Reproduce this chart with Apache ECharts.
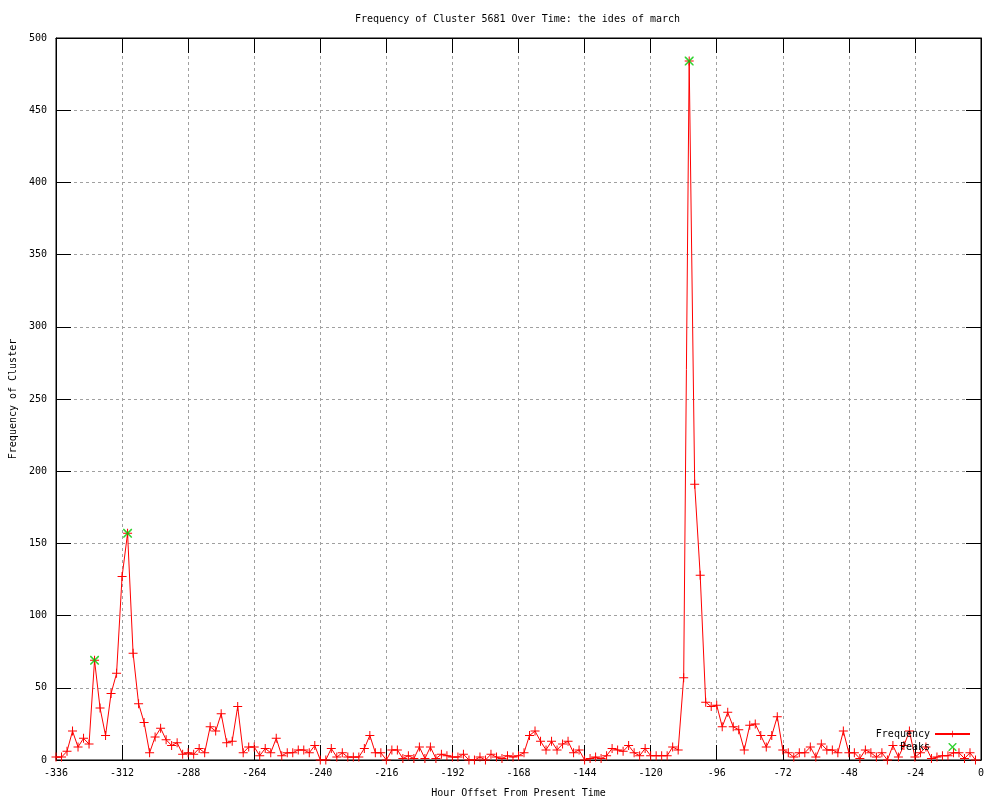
<!DOCTYPE html>
<html><head><meta charset="utf-8">
<script src="https://cdn.jsdelivr.net/npm/echarts@6/dist/echarts.min.js"></script>
<style>html,body{margin:0;padding:0;background:#fff}#c{width:1000px;height:800px}</style>
</head><body><div id="c"></div>
<script>
const hours = [
-336,-334,-332,-330,-328,-326,-324,-322,-320,-318,-316,-314,-312,-310,-308,-306,-304,-302,-300,-298,
-296,-294,-292,-290,-288,-286,-284,-282,-280,-278,-276,-274,-272,-270,-268,-266,-264,-262,-260,-258,
-256,-254,-252,-250,-248,-246,-244,-242,-240,-238,-236,-234,-232,-230,-228,-226,-224,-222,-220,-218,
-216,-214,-212,-210,-208,-206,-204,-202,-200,-198,-196,-194,-192,-190,-188,-186,-184,-182,-180,-178,
-176,-174,-172,-170,-168,-166,-164,-162,-160,-158,-156,-154,-152,-150,-148,-146,-144,-142,-140,-138,
-136,-134,-132,-130,-128,-126,-124,-122,-120,-118,-116,-114,-112,-110,-108,-106,-104,-102,-100,-98,
-96,-94,-92,-90,-88,-86,-84,-82,-80,-78,-76,-74,-72,-70,-68,-66,-64,-62,-60,-58,
-56,-54,-52,-50,-48,-46,-44,-42,-40,-38,-36,-34,-32,-30,-28,-26,-24,-22,-20,-18,
-16,-14,-12,-10,-8,-6,-4,-2
];
const frequency = [
2,2,6,20,9,15,11,69,36,17,46,60,127,157,74,39,26,5,16,22,
14,10,12,4,5,4,8,5,23,20,32,12,13,37,5,9,9,3,8,5,
15,3,5,5,7,7,5,10,0,0,8,2,5,2,2,2,8,17,5,5,
0,7,7,1,3,1,9,1,9,1,4,3,2,2,4,0,0,2,0,4,
2,1,3,2,3,5,17,20,13,7,13,7,11,13,5,7,0,1,2,1,
3,8,7,6,10,5,3,8,3,3,3,3,9,7,57,484,191,128,40,37,
38,23,33,23,21,7,24,25,17,9,17,30,7,5,2,5,5,9,2,11,
7,7,5,20,5,5,1,7,5,2,5,0,10,2,10,20,2,5,9,1,
2,3,3,5,5,1,5,0
];
const peakHours = [-322, -310, -106];
const peakValues = [69, 157, 484];
const xTicks = {min: -336, max: 0, interval: 24};
const yTicks = {min: 0, max: 500, interval: 50};

const FONT = 'DejaVu Sans Mono';
const crossPath = 'path://M4,0H5V9H4Z M0,4H9V5H0Z';
const xPath = 'path://M0,0L1,0L8,7L8,8L7,8L0,1Z M7,0L8,0L8,1L1,8L0,8L0,7Z';
const RED = '#ff0000', GREEN = '#00c800';

const chart = echarts.init(document.getElementById('c'), null, {renderer: 'canvas'});
const txt = {fontFamily: FONT, fontSize: 10, color: '#000'};
const tickStyle = {show: true, inside: true, length: 15, lineStyle: {color: '#000', width: 1}};
const lineAx = {show: true, onZero: false, lineStyle: {color: '#000', width: 1}};
chart.setOption({
  animation: false,
  backgroundColor: '#fff',
  title: {
    text: 'Frequency of Cluster 5681 Over Time: the ides of march',
    left: 355, top: 14, padding: 0,
    textStyle: {fontFamily: FONT, fontSize: 10, fontWeight: 'normal', color: '#000'}
  },
  grid: {left: 56, right: 19, top: 38, bottom: 40, outerBoundsMode: 'none', containLabel: false,
    show: true, borderColor: '#000', borderWidth: 1},
  legend: {
    orient: 'vertical', right: 29, bottom: 48, align: 'right',
    itemWidth: 35, itemHeight: 8, itemGap: 3, padding: 0,
    textStyle: txt,
    data: [
      {name: 'Frequency'},
      {name: 'Peaks', icon: xPath}
    ]
  },
  xAxis: [
    {type: 'value', position: 'bottom', min: xTicks.min, max: xTicks.max, interval: xTicks.interval,
      name: 'Hour Offset From Present Time', nameLocation: 'middle', nameGap: 28, nameTextStyle: txt,
      axisLine: lineAx, axisTick: tickStyle,
      axisLabel: Object.assign({margin: 8, showMinLabel: true, showMaxLabel: true}, txt),
      splitLine: {show: true, lineStyle: {color: '#a0a0a0', width: 1, type: [3, 3]}}},
    {type: 'value', position: 'top', min: xTicks.min, max: xTicks.max, interval: xTicks.interval,
      axisLine: lineAx, axisTick: tickStyle, axisLabel: {show: false}, splitLine: {show: false}}
  ],
  yAxis: [
    {type: 'value', position: 'left', min: yTicks.min, max: yTicks.max, interval: yTicks.interval,
      name: 'Frequency of Cluster', nameLocation: 'middle', nameGap: 37, nameTextStyle: txt,
      axisLine: lineAx, axisTick: tickStyle,
      axisLabel: Object.assign({margin: 9}, txt),
      splitLine: {show: true, lineStyle: {color: '#a0a0a0', width: 1, type: [3, 3]}}},
    {type: 'value', position: 'right', min: yTicks.min, max: yTicks.max, interval: yTicks.interval,
      axisLine: lineAx, axisTick: tickStyle, axisLabel: {show: false}, splitLine: {show: false}}
  ],
  series: [
    {name: 'Frequency', type: 'line', xAxisIndex: 0, yAxisIndex: 0,
      data: hours.map((h, i) => [h, frequency[i]]),
      showAllSymbol: true, symbol: crossPath, symbolSize: 9,
      lineStyle: {color: RED, width: 1}, itemStyle: {color: RED},
      emphasis: {disabled: true}, z: 2},
    {name: 'Peaks', type: 'scatter', xAxisIndex: 0, yAxisIndex: 0,
      data: peakHours.map((h, i) => [h, peakValues[i]]),
      symbol: xPath, symbolSize: 9, itemStyle: {color: GREEN},
      emphasis: {disabled: true}, z: 3}
  ]
});
</script></body></html>
